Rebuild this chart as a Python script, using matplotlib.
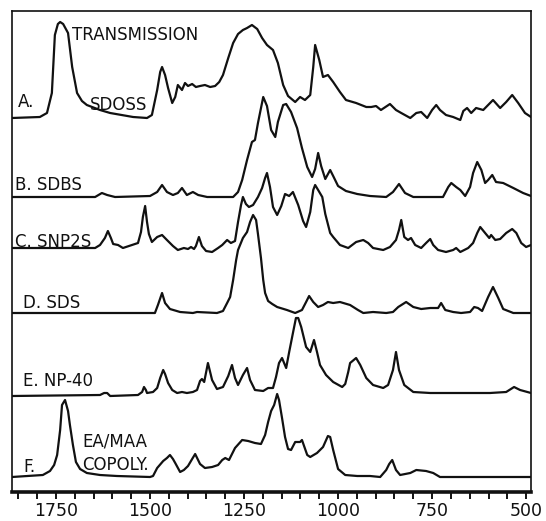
'''Stacked IR spectra of surfactants and an EA/MAA copolymer.

Values read off a scanned figure, heights in relative units.
'''
import matplotlib
matplotlib.use("Agg")
import matplotlib.pyplot as plt
from matplotlib.ticker import MultipleLocator

# A. SDOSS
a_wn = [1867, 1793, 1774, 1761, 1753, 1745, 1739, 1731, 1718, 1707, 1694, 1681,
        1668, 1633, 1606, 1545, 1508, 1495, 1481, 1473, 1468, 1460, 1452, 1441,
        1433, 1426, 1415, 1407, 1399, 1388, 1378, 1367, 1354, 1340, 1327, 1316,
        1306, 1292, 1279, 1266, 1253, 1242, 1229, 1215, 1202, 1189, 1173, 1160,
        1146, 1133, 1114, 1101, 1088, 1074, 1066, 1061, 1050, 1040, 1027, 1013,
        995, 979, 952, 925, 912, 899, 886, 862, 846, 832, 808, 792, 779, 763,
        750, 739, 729, 713, 694, 675, 667, 657, 646, 633, 614, 588, 569, 553,
        537, 521, 503, 487]
a_val = [0, 1, 5, 25, 83, 94, 96, 94, 85, 51, 25, 17,
         13, 8, 5, 1, 0, 3, 28, 46, 51, 43, 30, 15,
         21, 33, 28, 35, 32, 34, 31, 32, 33, 31, 32, 36,
         43, 60, 75, 84, 88, 90, 93, 89, 80, 73, 68, 55,
         33, 22, 16, 21, 18, 23, 51, 73, 58, 41, 43, 36,
         26, 18, 15, 11, 11, 12, 8, 14, 8, 5, 0, 5, 6, 0,
         8, 13, 8, 3, 1, -2, 7, 10, 5, 10, 8, 18, 10, 16,
         23, 15, 5, 1]

# B. SDBS
b_wn = [1867, 1646, 1628, 1614, 1593, 1500, 1481, 1468, 1455, 1439, 1426, 1415,
        1402, 1386, 1372, 1348, 1279, 1266, 1255, 1242, 1229, 1221, 1213, 1199,
        1189, 1178, 1167, 1160, 1146, 1138, 1125, 1109, 1096, 1082, 1069, 1061,
        1053, 1045, 1034, 1021, 1013, 1000, 979, 949, 915, 872, 854, 838, 822,
        800, 721, 707, 699, 686, 675, 662, 649, 641, 630, 619, 609, 601, 590,
        580, 561, 534, 508, 487]
b_val = [0, 0, 4, 2, 0, 1, 5, 12, 5, 2, 4, 9,
         2, 5, 2, 0, 0, 5, 17, 37, 55, 57, 74, 100,
         91, 67, 60, 75, 92, 93, 85, 69, 49, 30, 20, 28,
         44, 31, 18, 27, 21, 11, 6, 3, 1, 0, 5, 13, 4,
         0, 0, 10, 14, 10, 7, 1, 10, 24, 35, 27, 14, 17, 22,
         15, 14, 9, 4, 1]

# C. SNP2S
c_wn = [1867, 1646, 1633, 1620, 1612, 1604, 1598, 1585, 1572, 1532, 1524, 1519,
        1513, 1508, 1503, 1495, 1481, 1468, 1455, 1439, 1426, 1410, 1399, 1391,
        1383, 1378, 1370, 1362, 1351, 1335, 1319, 1308, 1295, 1285, 1274, 1266,
        1258, 1253, 1245, 1237, 1226, 1213, 1202, 1194, 1189, 1181, 1173, 1162,
        1151, 1141, 1130, 1120, 1106, 1093, 1085, 1074, 1066, 1061, 1053, 1042,
        1034, 1021, 1013, 995, 973, 952, 933, 920, 907, 880, 862, 846, 838, 832,
        824, 814, 806, 795, 779, 766, 755, 747, 734, 713, 694, 686, 675, 654,
        641, 630, 622, 609, 598, 593, 582, 569, 553, 537, 526, 513, 500, 487]
c_val = [0, 0, 3, 10, 17, 10, 4, 3, 0, 5, 16, 31,
         42, 26, 14, 6, 11, 13, 8, 2, -2, 0, -1, 1,
         -1, 2, 11, 2, -3, -4, 0, 3, 8, 5, 7, 26,
         43, 51, 44, 41, 43, 51, 60, 70, 75, 61, 41, 33,
         42, 54, 52, 56, 43, 27, 21, 36, 58, 63, 58, 51,
         34, 15, 11, 3, 0, 6, 8, 5, 0, -2, 1, 8, 18, 28,
         11, 8, 10, 3, 0, 5, 9, 3, -2, -4, -2, 0, -4, 0,
         5, 15, 21, 15, 10, 13, 8, 9, 15, 19, 15, 5, 1, 3]

# D. SDS
d_wn = [1867, 1487, 1479, 1468, 1460, 1447, 1420, 1386, 1375, 1322, 1306, 1295,
        1287, 1279, 1271, 1266, 1253, 1242, 1234, 1226, 1218, 1213, 1205, 1199,
        1194, 1186, 1175, 1162, 1136, 1114, 1096, 1085, 1077, 1066, 1053, 1040,
        1027, 1013, 995, 968, 947, 933, 907, 872, 854, 840, 819, 800, 779, 755,
        734, 726, 715, 694, 673, 649, 638, 628, 617, 601, 588, 574, 561, 534, 487]
d_val = [0, 0, 8, 20, 10, 4, 1, 0, 1, 0, 2, 10,
         16, 33, 53, 63, 75, 81, 91, 98, 93, 79, 55, 33,
         20, 12, 9, 6, 3, 0, 3, 11, 17, 11, 6, 8,
         11, 10, 11, 8, 3, 0, 1, 0, 1, 6, 11, 6, 4, 5,
         5, 10, 3, 1, 0, 1, 6, 5, 2, 16, 26, 15, 4, 0, 0]

# E. NP-40
e_wn = [1867, 1633, 1622, 1614, 1606, 1532, 1521, 1516, 1511, 1508, 1492, 1481,
        1473, 1465, 1460, 1452, 1441, 1428, 1415, 1402, 1386, 1375, 1367, 1362,
        1356, 1346, 1335, 1322, 1306, 1292, 1282, 1274, 1266, 1253, 1242, 1234,
        1221, 1199, 1186, 1173, 1165, 1157, 1149, 1138, 1130, 1120, 1112, 1106,
        1098, 1085, 1074, 1064, 1056, 1048, 1032, 1013, 989, 981, 973, 968, 952,
        941, 925, 907, 880, 867, 854, 846, 838, 824, 800, 755, 686, 596, 553,
        532, 516, 487]
e_val = [-1, 0, 2, 2, -1, 0, 3, 8, 5, 2, 3, 7,
         17, 25, 21, 12, 5, 2, 3, 2, 3, 5, 14, 16,
         13, 32, 15, 6, 8, 19, 30, 17, 10, 20, 27, 15,
         5, 4, 7, 7, 18, 32, 37, 27, 43, 62, 77, 77,
         68, 48, 43, 55, 43, 30, 20, 13, 8, 11, 23, 32, 37,
         30, 17, 10, 7, 10, 25, 43, 25, 10, 3, 2, 2, 2, 3,
         8, 5, 2]

# F. EA/MAA copolymer
f_wn = [1867, 1785, 1766, 1755, 1747, 1739, 1734, 1726, 1718, 1713, 1705, 1697,
        1686, 1668, 1633, 1588, 1500, 1492, 1481, 1465, 1455, 1447, 1439, 1433,
        1420, 1410, 1399, 1388, 1380, 1367, 1354, 1335, 1319, 1308, 1300, 1290,
        1274, 1255, 1239, 1221, 1205, 1194, 1186, 1178, 1170, 1162, 1157, 1149,
        1141, 1133, 1125, 1114, 1101, 1096, 1082, 1074, 1056, 1040, 1027, 1021,
        1013, 1000, 981, 949, 915, 888, 872, 864, 856, 846, 835, 808, 792, 766,
        747, 729, 641, 487]
f_val = [0, 2, 6, 12, 22, 47, 72, 77, 66, 52, 32, 15,
         8, 4, 2, 1, 0, 1, 9, 16, 19, 22, 18, 14,
         5, 7, 11, 18, 23, 13, 9, 10, 12, 17, 19, 17,
         29, 37, 36, 34, 33, 42, 55, 66, 72, 83, 77, 59,
         40, 28, 27, 35, 35, 37, 22, 20, 24, 30, 41, 40,
         27, 8, 2, 1, 1, 0, 7, 13, 17, 7, 2, 4, 7, 6,
         4, 0, 0, 0]

tick_values = [1750, 1500, 1250, 1000, 750, 500]


def main():
    '''Draw the six stacked traces and save out.png.'''
    fig = plt.figure(figsize=(5.46, 5.21), dpi=100)
    ax = fig.add_axes([12 / 546, 29 / 521, 519 / 546, 481 / 521])

    # each trace sits on its own baseline
    traces = [(a_wn, a_val, 374), (b_wn, b_val, 295), (c_wn, c_val, 244),
              (d_wn, d_val, 179), (e_wn, e_val, 97), (f_wn, f_val, 15)]
    for wn, val, base in traces:
        ax.plot(wn, [v + base for v in val], color="#111111", lw=1.6,
                solid_joinstyle="round", solid_capstyle="round")

    ax.set_xlim(1867, 487)
    ax.set_ylim(0, 481)

    labels = [("TRANSMISSION", 1707, 452), ("A.", 1851, 385),
              ("SDOSS", 1660, 382), ("B. SDBS", 1859, 302),
              ("C. SNP2S", 1859, 245), ("D. SDS", 1838, 184),
              ("E. NP-40", 1838, 106), ("F.", 1838, 20),
              ("EA/MAA", 1681, 45), ("COPOLY.", 1681, 22)]
    for txt, x, y in labels:
        ax.text(x, y, txt, fontsize=12, color="#111111", ha="left",
                va="baseline", family="DejaVu Sans")

    ax.set_xticks(tick_values)
    ax.set_xticklabels([str(t) for t in tick_values])
    ax.xaxis.set_minor_locator(MultipleLocator(50))
    ax.tick_params(axis="x", which="both", direction="out", length=5,
                   width=1.4, color="#111111", labelsize=12.5, pad=2,
                   labelcolor="#111111")
    ax.set_yticks([])

    ax.spines["bottom"].set_linewidth(2.6)
    for side in ["left", "right", "top"]:
        ax.spines[side].set_linewidth(1.2)
    for side in ax.spines:
        ax.spines[side].set_color("#111111")

    fig.savefig("out.png", dpi=100)


main()
